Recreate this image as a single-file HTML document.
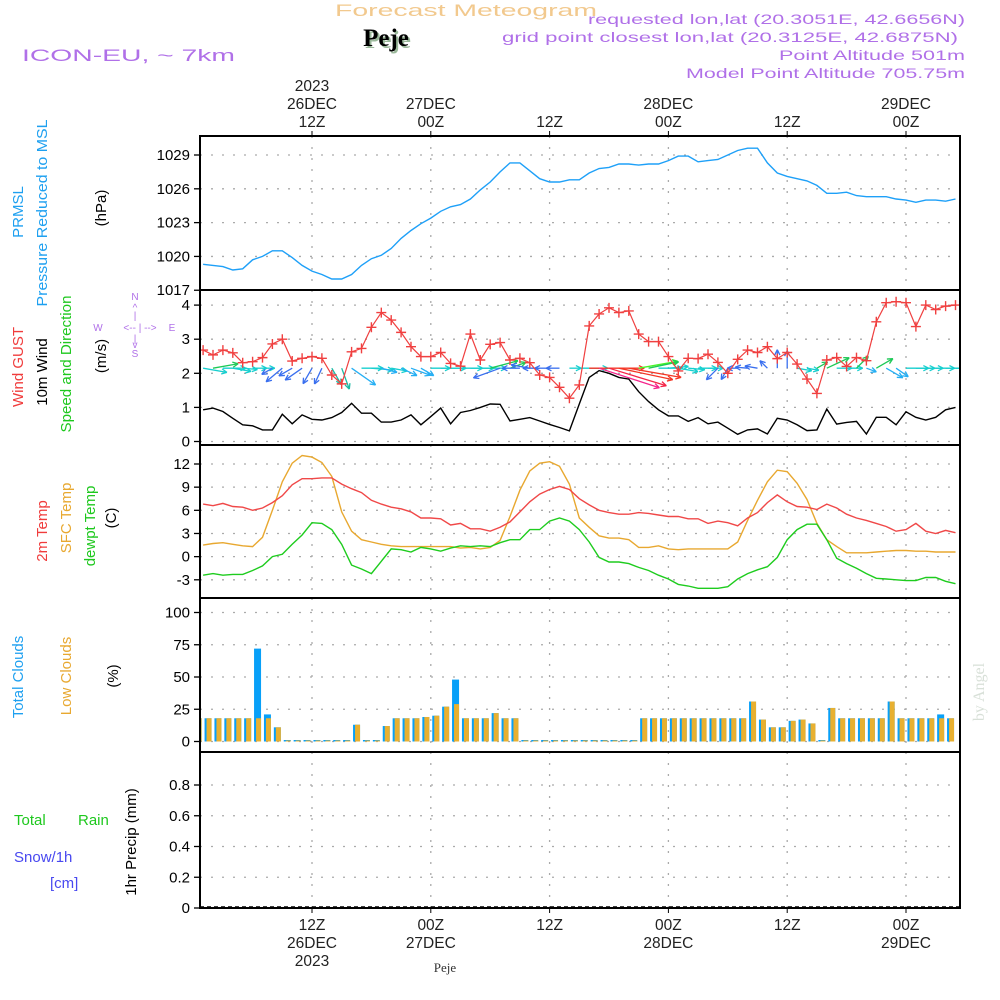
<!DOCTYPE html>
<html><head><meta charset="utf-8"><style>
body{margin:0;background:#fff;}
svg{display:block;font-family:"Liberation Sans",sans-serif;}
</style></head><body>
<svg id="chart" width="1000" height="1000" viewBox="0 0 1000 1000" xmlns="http://www.w3.org/2000/svg">
<rect width="1000" height="1000" fill="#fff"/>
<g>
<text x="466" y="16" text-anchor="middle" font-size="17" fill="#f2c98e" textLength="262" lengthAdjust="spacingAndGlyphs">Forecast Meteogram</text>
<text x="388" y="48" text-anchor="middle" font-family="Liberation Serif,serif" font-weight="bold" font-size="25" fill="#9ab89a">Peje</text>
<text x="386" y="46" text-anchor="middle" font-family="Liberation Serif,serif" font-weight="bold" font-size="25" fill="#000">Peje</text>
<text x="22" y="61" font-size="17" fill="#b070e8" textLength="213" lengthAdjust="spacingAndGlyphs">ICON-EU, ~ 7km</text>
<text x="965" y="24" text-anchor="end" font-size="14" fill="#b070e8" textLength="377" lengthAdjust="spacingAndGlyphs">requested lon,lat (20.3051E, 42.6656N)</text>
<text x="958" y="42" text-anchor="end" font-size="14" fill="#b070e8" textLength="456" lengthAdjust="spacingAndGlyphs">grid point closest lon,lat (20.3125E, 42.6875N)</text>
<text x="965" y="60" text-anchor="end" font-size="14" fill="#b070e8" textLength="186" lengthAdjust="spacingAndGlyphs">Point Altitude 501m</text>
<text x="965" y="78" text-anchor="end" font-size="14" fill="#b070e8" textLength="279" lengthAdjust="spacingAndGlyphs">Model Point Altitude 705.75m</text>
</g>
<g id="axes"></g>
<g font-size="15">
<text transform="translate(23,212) rotate(-90)" text-anchor="middle" fill="#1ea0f0">PRMSL</text>
<text transform="translate(47,213) rotate(-90)" text-anchor="middle" fill="#1ea0f0" textLength="187" lengthAdjust="spacingAndGlyphs">Pressure Reduced to MSL</text>
<text transform="translate(106,208) rotate(-90)" text-anchor="middle" fill="#000">(hPa)</text>
<text transform="translate(23,367) rotate(-90)" text-anchor="middle" fill="#f03c3c">Wind GUST</text>
<text transform="translate(47,372) rotate(-90)" text-anchor="middle" fill="#000">10m Wind</text>
<text transform="translate(71,364) rotate(-90)" text-anchor="middle" fill="#1ec81e" textLength="137" lengthAdjust="spacingAndGlyphs">Speed and Direction</text>
<text transform="translate(106,356) rotate(-90)" text-anchor="middle" fill="#000">(m/s)</text>
<g fill="#b070e8" font-size="10" text-anchor="middle">
<text x="135" y="300">N</text><text x="135" y="311">^</text><text x="135" y="319">|</text>
<text x="98" y="331">W</text><text x="140" y="331">&lt;-- | --&gt;</text><text x="172" y="331">E</text>
<text x="135" y="342">|</text><text x="135" y="348">v</text><text x="135" y="357">S</text>
</g>
<text transform="translate(47,531) rotate(-90)" text-anchor="middle" fill="#f03c3c">2m Temp</text>
<text transform="translate(71,518) rotate(-90)" text-anchor="middle" fill="#e8a830">SFC Temp</text>
<text transform="translate(95,526) rotate(-90)" text-anchor="middle" fill="#1ec81e">dewpt Temp</text>
<text transform="translate(116,518) rotate(-90)" text-anchor="middle" fill="#000">(C)</text>
<text transform="translate(23,677) rotate(-90)" text-anchor="middle" fill="#1ea0f0">Total Clouds</text>
<text transform="translate(71,676) rotate(-90)" text-anchor="middle" fill="#e8a830">Low Clouds</text>
<text transform="translate(118,676) rotate(-90)" text-anchor="middle" fill="#000">(%)</text>
<text x="14" y="825" fill="#1ec81e">Total</text>
<text x="78" y="825" fill="#1ec81e">Rain</text>
<text x="14" y="862" fill="#4848f0">Snow/1h</text>
<text x="50" y="888" fill="#4848f0">[cm]</text>
<text transform="translate(136,842) rotate(-90)" text-anchor="middle" fill="#000">1hr Precip (mm)</text>
<text transform="translate(984,692) rotate(-90)" text-anchor="middle" font-family="Liberation Serif,serif" font-size="16" fill="#d8e0d8">by Angel</text>
<text x="445" y="972" text-anchor="middle" font-family="Liberation Serif,serif" font-size="13" fill="#333">Peje</text>
</g>
<g id="marks"></g>
</svg>
<script>
const pressure=[1019.3,1019.2,1019.1,1018.8,1018.9,1019.7,1020.0,1020.5,1020.5,1019.9,1019.2,1018.7,1018.4,1018.0,1018.0,1018.4,1019.2,1019.8,1020.1,1020.7,1021.6,1022.3,1022.9,1023.4,1024.0,1024.4,1024.6,1025.1,1025.9,1026.6,1027.5,1028.3,1028.3,1027.6,1026.9,1026.6,1026.6,1026.8,1026.8,
1027.4,1027.8,1027.9,1028.2,1028.2,1028.1,1028.2,1028.2,1028.5,1028.9,1028.9,1028.4,1028.5,1028.6,1029.0,1029.4,1029.6,1029.6,1028.3,1027.4,1027.1,1026.9,1026.7,1026.3,1025.6,1025.6,1025.7,1025.4,1025.3,1025.3,1025.3,1025.1,1025.0,1024.8,1025.0,1025.0,1024.9,1025.1];
const gust=[2.68,2.54,2.68,2.6,2.31,2.34,2.46,2.86,3.0,2.36,2.44,2.49,2.44,1.95,1.69,2.63,2.73,3.35,3.78,3.56,3.2,2.78,2.49,2.49,2.61,2.29,2.21,3.15,2.39,2.85,2.9,2.39,2.44,2.31,1.95,1.88,1.59,1.27,1.66,
3.39,3.74,3.92,3.78,3.83,3.15,2.93,2.93,2.49,2.07,2.44,2.43,2.56,2.32,2.0,2.41,2.68,2.61,2.78,2.43,2.61,2.27,1.83,1.41,2.39,2.46,2.2,2.46,2.37,3.51,4.07,4.1,4.07,3.37,4.0,3.87,3.97,4.0];
const wind=[0.93,0.98,0.88,0.68,0.49,0.46,0.34,0.34,0.8,0.52,0.78,0.65,0.63,0.7,0.85,1.12,0.83,0.83,0.57,0.57,0.63,0.78,0.49,0.73,0.98,0.52,0.85,0.91,1.0,1.1,1.09,0.6,0.65,0.7,0.6,0.5,0.41,0.31,1.1,
1.88,2.08,2.0,1.88,1.83,1.46,1.17,0.93,0.75,0.75,0.59,0.7,0.52,0.57,0.39,0.21,0.34,0.37,0.22,0.68,0.63,0.49,0.32,0.34,0.95,0.51,0.56,0.59,0.22,0.71,0.71,0.49,0.87,0.71,0.63,0.71,0.93,1.0];
const windDir=[10,-10,0,10,5,0,0,150,140,150,145,120,115,60,70,35,0,5,15,10,25,20,30,0,0,0,0,0,0,-15,160,-20,180,190,180,180,180,0,0,
0,18,17,12,10,-10,-12,0,-5,10,5,0,0,135,120,180,185,190,225,-90,-90,10,10,-30,-25,0,0,-45,20,-30,30,35,0,0,0,0,0,0];
const temp2m=[6.8,6.6,6.9,6.5,6.4,6.0,6.3,7.0,7.9,9.3,10.1,10.1,10.2,10.2,9.4,8.8,8.3,7.3,6.8,6.4,6.2,5.8,5.0,5.0,4.9,4.1,4.3,3.6,3.6,3.3,3.8,4.5,5.8,7.1,8.1,8.7,9.1,8.7,7.5,
6.7,6.0,5.7,5.5,5.5,5.7,5.6,5.4,5.2,5.2,4.9,4.9,4.3,4.6,4.4,4.0,5.0,5.7,7.0,8.0,7.1,6.5,6.4,6.1,6.8,6.3,5.5,5.0,4.7,4.3,3.9,3.3,3.5,4.3,3.3,3.0,3.4,3.1];
const sfcTemp=[1.5,1.7,1.8,1.6,1.4,1.3,2.5,6.0,9.7,12.1,13.1,12.9,12.2,10.4,5.8,3.3,2.2,1.9,1.6,1.4,1.3,1.3,1.3,1.3,1.3,1.3,1.1,1.2,1.0,1.2,2.1,5.2,8.6,11.1,12.1,12.3,11.7,9.4,5.0,
3.8,2.7,2.4,2.4,2.2,1.2,1.2,1.4,1.0,0.9,1.0,1.0,1.0,1.0,1.0,1.9,4.7,7.3,9.7,11.2,11.0,9.5,7.4,4.3,2.2,1.3,0.5,0.5,0.5,0.6,0.7,0.8,0.8,0.7,0.7,0.6,0.6,0.6];
const dewpt=[-2.4,-2.2,-2.4,-2.3,-2.3,-1.8,-1.2,0.0,0.3,1.6,2.8,4.4,4.3,3.5,1.6,-1.1,-1.6,-2.2,-0.6,1.0,0.9,0.6,1.2,1.0,0.7,1.1,1.4,1.3,1.4,1.3,1.8,2.2,2.2,3.5,3.5,4.6,5.0,4.6,3.5,
1.9,-0.1,-0.7,-0.7,-0.9,-1.4,-1.8,-2.4,-2.9,-3.6,-3.8,-4.1,-4.1,-4.1,-3.9,-2.9,-2.2,-1.7,-1.3,-0.1,2.2,3.5,4.2,4.2,2.2,-0.2,-0.9,-1.5,-2.2,-2.8,-2.9,-3.0,-3.1,-3.1,-2.7,-2.7,-3.2,-3.5];
const totalClouds=[18,18,18,18,18,18,72,21,11,0,0,0,0,0,0,0,13,0,0,12,18,18,18,19,20,27,48,18,18,18,22,18,18,0,0,0,0,0,0,0,0,0,0,0,0,18,18,18,18,18,18,18,18,18,18,18,31,17,11,11,16,17,14,0,26,18,18,18,18,18,31,18,18,18,18,21,18];
const lowClouds=[18,18,18,18,18,18,18,18,11,0,0,0,0,0,0,0,13,0,0,12,18,18,18,19,20,27,29,18,18,18,22,18,18,0,0,0,0,0,0,0,0,0,0,0,0,18,18,18,18,18,18,18,18,18,18,18,31,17,11,11,16,17,14,0,26,18,18,18,18,18,31,18,18,18,18,18,18];
const precip=totalClouds.map(()=>0);
const pressTicks=[1017,1020,1023,1026,1029];
const windTicks=[0,1,2,3,4];
const tempTicks=[-3,0,3,6,9,12];
const cloudTicks=[0,25,50,75,100];
const precipTicks=[0,0.2,0.4,0.6,0.8];
const timeTicks=[12,24,36,48,60,72];
const topTickLabels=[["2023","26DEC","12Z"],["27DEC","00Z"],["12Z"],["28DEC","00Z"],["12Z"],["29DEC","00Z"]];
const bottomTickLabels=[["12Z","26DEC","2023"],["00Z","27DEC"],["12Z"],["00Z","28DEC"],["12Z"],["00Z","29DEC"]];

const NS="http://www.w3.org/2000/svg";
const L=200,R=960;
const xT=t=>312+(t-12)*9.9;
const xi=i=>xT(i+1);
const yP=v=>155+(1029-v)*11.27;
const yW=v=>441.5-v*34.1;
const yTm=v=>464+(12-v)*7.72;
const yC=v=>741.5-v*1.29;
const yPr=v=>908-v*153.75;
const panels=[{top:136,bot:290,ticks:pressTicks,y:yP,name:'pressure'},{top:290,bot:445,ticks:windTicks,y:yW,name:'wind'},{top:445,bot:598,ticks:tempTicks,y:yTm,name:'temperature'},{top:598,bot:752,ticks:cloudTicks,y:yC,name:'clouds'},{top:752,bot:908,ticks:precipTicks,y:yPr,name:'precip'}];
function el(tag,attrs,parent){const e=document.createElementNS(NS,tag);for(const k in attrs)e.setAttribute(k,attrs[k]);parent.appendChild(e);return e;}
const axes=document.getElementById('axes'),marks=document.getElementById('marks');
const defs=el('defs',{},axes);
panels.forEach((p,pi)=>{
  const cp=el('clipPath',{id:'clip'+pi},defs);el('rect',{x:L,y:p.top,width:R-L,height:p.bot-p.top},cp);
  const g=el('g',{},axes);
  
  
  p.ticks.forEach(v=>{
    const y=p.y(v);
    if(y>p.top+2&&y<p.bot-2){const gl=el('line',{x1:L,x2:R,y1:y,y2:y,stroke:'#aaa','stroke-width':1.3,'stroke-dasharray':'2,9'},g);
      }
    el('line',{x1:L-6,x2:L,y1:y,y2:y,stroke:'#000','stroke-width':1.3},g);
    const tx=el('text',{x:L-10,y:y+5,'text-anchor':'end','font-size':15,fill:'#000'},g);
    
    tx.textContent=String(v);
  });
  timeTicks.forEach(t=>{const x=xT(t);
    const vl=el('line',{x1:x,x2:x,y1:p.top,y2:p.bot,stroke:'#aaa','stroke-width':1.3,'stroke-dasharray':'2,9'},g);
    });
});
timeTicks.forEach((t,k)=>{const x=xT(t);
  el('line',{x1:x,x2:x,y1:136,y2:131,stroke:'#000'},axes);
  el('line',{x1:x,x2:x,y1:908,y2:913,stroke:'#000'},axes);
  const top=topTickLabels[k];
  top.forEach((s,j)=>{const tt=el('text',{x:x,y:127-(top.length-1-j)*18,'text-anchor':'middle','font-size':15.5,fill:'#222'},axes);
    tt.textContent=s;});
  bottomTickLabels[k].forEach((s,j)=>{const bt=el('text',{x:x,y:930+j*18,'text-anchor':'middle','font-size':15.5,fill:'#222'},axes);
    bt.textContent=s;});
});
const zl=el('line',{x1:L,x2:R,y1:yPr(0)-1,y2:yPr(0)-1,stroke:'#000','stroke-dasharray':'4,3','stroke-width':1.5},axes);


function line(arr,yf,color,name,clip,w){const d=arr.map((v,i)=>(i?'L':'M')+xi(i).toFixed(1)+','+yf(v).toFixed(1)).join('');
  const p=el('path',{d:d,fill:'none',stroke:color,'stroke-width':w||1.4,'clip-path':'url(#clip'+clip+')'},marks);
  return p;}
line(pressure,yP,'#1ea0f8','pressure-line',0);
const ga=el('g',{'clip-path':'url(#clip1)'},marks);

function arrowColor(i){const s=wind[i],d=windDir[i];
  if(s>1.4){const h=[330,350,5,25,80,110][Math.min(5,Math.max(0,Math.round((2.1-s)*9)))];return 'hsl('+h+',90%,55%)';}
  if(d<-5&&d>-60)return 'hsl(140,75%,45%)';
  if(Math.abs(d)>100||d<-60)return 'hsl(222,85%,58%)';
  if(d>=40)return 'hsl(172,75%,42%)';
  return d>12?'hsl(200,90%,55%)':'hsl(180,80%,45%)';}
windDir.forEach((d,i)=>{
  const s=wind[i];
  const x0=xi(i),y0=yW(2.15),len=8+10*s+8*s*s,a=d*Math.PI/180;
  const x1=x0+len*Math.cos(a),y1=y0+len*Math.sin(a);
  const c=arrowColor(i);
  const g=el('g',{stroke:c,'stroke-width':1.3,fill:'none'},ga);
  
  el('line',{x1:x0,y1:y0,x2:x1,y2:y1},g);
  [0.45,-0.45].forEach(o=>{el('line',{x1:x1,y1:y1,x2:x1-6*Math.cos(a+o),y2:y1-6*Math.sin(a+o)},g);});
});
line(wind,yW,'#000','wind-speed-line',1);
line(gust,yW,'#f04040','wind-gust-line',1,1.2);
const gm=el('g',{stroke:'#f04040','stroke-width':1.4,'clip-path':'url(#clip1)'},marks);

gust.forEach((v,i)=>{const x=xi(i),y=yW(v);
  el('path',{d:'M'+(x-5)+','+y+'H'+(x+5)+'M'+x+','+(y-5)+'V'+(y+5)},gm);});
line(sfcTemp,yTm,'#e8a830','sfc-temp-line',2);
line(temp2m,yTm,'#f04848','temp2m-line',2);
line(dewpt,yTm,'#1ecc1e','dewpt-line',2);
const gc=el('g',{'clip-path':'url(#clip3)'},marks);

totalClouds.forEach((v,i)=>{const c=xT(i+0.5);
  const h=Math.max(1.5,v*1.29);
  const b=el('rect',{x:c-3.5,y:yC(0)-h,width:7,height:h,fill:'#08a0f8'},gc);
  
  const hl=Math.max(1,lowClouds[i]*1.29);
  const b2=el('rect',{x:c-1.5,y:yC(0)-hl,width:5,height:hl,fill:'#e8b030'},gc);
  
});
precip.forEach((v,i)=>{if(v>0){const c=xT(i+0.5);
  const pb=el('rect',{x:c-3,y:yPr(v),width:6,height:v*153.75,fill:'#1ecc1e'},marks);
  }});
panels.forEach(p=>{const r=el('rect',{x:L,y:p.top,width:R-L,height:p.bot-p.top,fill:'none',stroke:'#000','stroke-width':2},marks);
  });
</script>
</body></html>
